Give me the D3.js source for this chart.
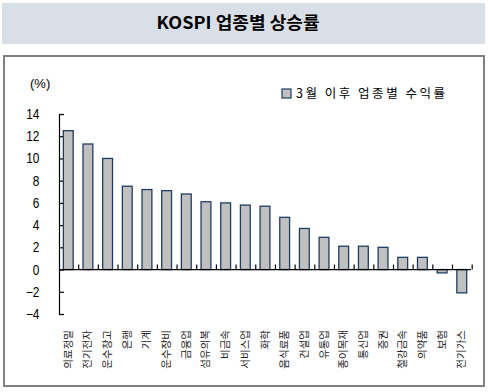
<!DOCTYPE html>
<html><head><meta charset="utf-8">
<script src="https://cdn.jsdelivr.net/npm/d3@7"></script>
<style>body{margin:0;background:#fff}svg{display:block}</style>
</head><body>
<svg id="c" width="488" height="392"></svg>
<script>
const categories = ["의료정밀","전기전자","운수창고","은행","기계","운수장비","금융업","섬유의복","비금속","서비스업","화학","음식료품","건설업","유통업","종이목재","통신업","증권","철강금속","의약품","보험","전기가스"];
const values = [12.5,11.3,10.0,7.5,7.2,7.1,6.8,6.1,6.0,5.8,5.7,4.7,3.7,2.9,2.1,2.1,2.0,1.1,1.1,-0.3,-2.1];
const yTicks = [-4,-2,0,2,4,6,8,10,12,14];
const titleText = "KOSPI 업종별 상승률";
const legendText = "3월 이후 업종별 수익률";
const unitText = "(%)";

const svg = d3.select("#c");
const font = "'Liberation Sans', Arial, 'Noto Sans CJK KR', sans-serif";

// title banner
svg.append("rect").attr("x",2).attr("y",3).attr("width",483).attr("height",41).attr("fill","#d9dfe6");
svg.append("text").attr("x",238).attr("y",29).attr("text-anchor","middle")
  .attr("font-family","'Noto Sans CJK KR', sans-serif").attr("font-weight","bold").attr("font-size",17)
  .attr("textLength",163).attr("lengthAdjust","spacingAndGlyphs").attr("fill","#000").text(titleText);

// frame
svg.append("rect").attr("x",4).attr("y",56).attr("width",480).attr("height",330)
  .attr("fill","none").attr("stroke","#808080").attr("stroke-width",2);

const x = d3.scaleBand().domain(categories).range([59,471]).paddingInner(0.5).paddingOuter(0.22);
const y = d3.scaleLinear().domain([-4,14]).range([314,114]);

// y axis
const ya = svg.append("g").attr("transform","translate(59,0)")
  .call(d3.axisLeft(y).tickValues(yTicks).tickSizeInner(-5).tickSizeOuter(0).tickPadding(20).tickFormat(d3.format("d")));
ya.selectAll("path,line").attr("stroke","#000").attr("stroke-width",1.2);
ya.selectAll("text").attr("font-family",font).attr("font-size",14).attr("fill","#000")
  .attr("transform","scale(0.85,1)").attr("x",-23);

// bars
svg.append("g").selectAll("rect").data(values).join("rect")
  .attr("x",(d,i)=>x(categories[i]))
  .attr("y",d=>y(Math.max(0,d)))
  .attr("width",x.bandwidth())
  .attr("height",d=>Math.abs(y(d)-y(0)))
  .attr("fill","#c0c0c0").attr("stroke","#1f3d63").attr("stroke-width",1.3);

// zero axis with upward ticks at category boundaries
const step = x.step();
const x0 = x.range()[0];
const xa = svg.append("g");
xa.append("line").attr("x1",59).attr("x2",471).attr("y1",y(0)).attr("y2",y(0)).attr("stroke","#000").attr("stroke-width",1.2);
xa.selectAll("line.t").data(d3.range(1,categories.length+1)).join("line").attr("class","t")
  .attr("x1",i=>x0+i*step).attr("x2",i=>x0+i*step)
  .attr("y1",y(0)).attr("y2",y(0)-5).attr("stroke","#000").attr("stroke-width",1.2);

// category labels (rotated)
svg.append("g").selectAll("text").data(categories).join("text")
  .attr("transform",d=>`translate(${x(d)+x.bandwidth()/2-1},330) rotate(-90)`)
  .attr("text-anchor","end").attr("dominant-baseline","central")
  .attr("font-family","'Noto Sans CJK KR', sans-serif").attr("font-size",10.5).attr("fill","#222")
  .text(d=>d);

// unit
svg.append("text").attr("x",30).attr("y",88).attr("font-family",font).attr("font-size",13).attr("fill","#000").text(unitText);

// legend
svg.append("rect").attr("x",282).attr("y",89).attr("width",9).attr("height",9)
  .attr("fill","#c0c0c0").attr("stroke","#1f3d63").attr("stroke-width",1.2);
svg.append("text").attr("x",296).attr("y",98).attr("font-family","'Noto Sans CJK KR', sans-serif")
  .attr("font-size",12.5).attr("fill","#000").attr("textLength",149).attr("lengthAdjust","spacing").text(legendText);
</script>
</body></html>
